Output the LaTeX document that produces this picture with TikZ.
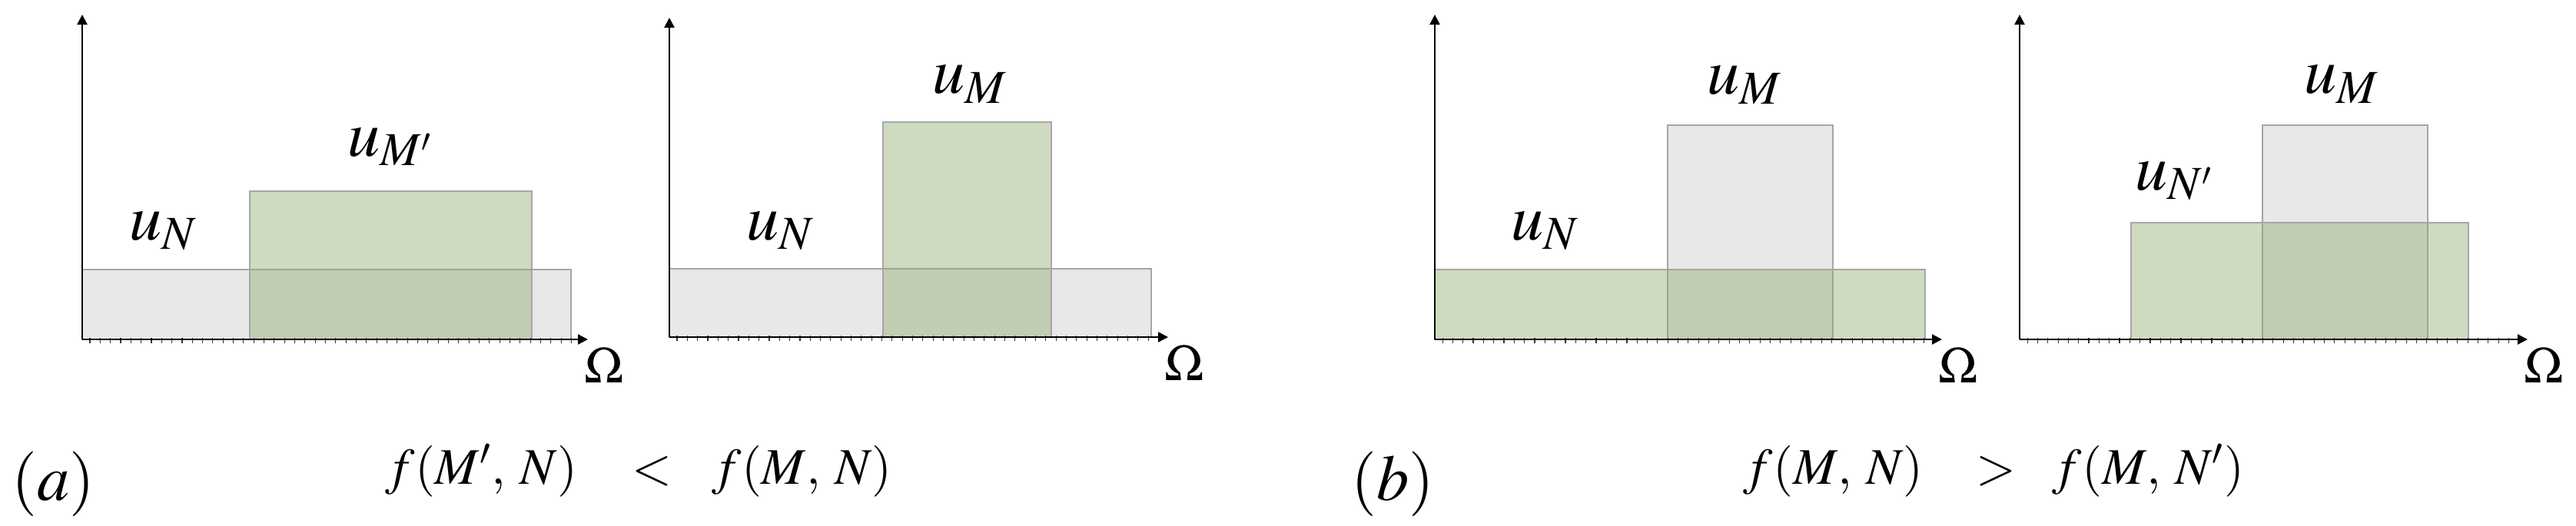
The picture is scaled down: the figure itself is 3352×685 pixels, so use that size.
\documentclass[tikz,border=0pt]{standalone}
\usepackage{mathptmx}
\usetikzlibrary{calc, arrows.meta}
\definecolor{sgray}{HTML}{E8E8E8}
\definecolor{sgreen}{RGB}{141,171,111}
\definecolor{sedge}{HTML}{A6A6A6}
\DeclareMathSizes{24}{24}{17.5}{12}
\DeclareMathSizes{19}{19}{14}{10}

\begin{document}
\begin{tikzpicture}[x=0.01cm, y=-0.01cm,
    AX/.style={line width=0.65pt, -{Triangle[length=3.7pt, width=3.7pt]}},
    TK/.style={line width=0.3pt, black!80},
    GR/.style={fill=sgray, draw=sedge, line width=0.55pt},
    GN/.style={fill=sgreen, fill opacity=0.43, draw=sedge, line width=0.55pt},
    LB/.style={inner sep=0pt, anchor=base west, font=\fontsize{24}{28}\selectfont},
    FM/.style={inner sep=0pt, anchor=base west, font=\fontsize{19}{23}\selectfont},
    OM/.style={inner sep=0pt, anchor=base, font=\fontsize{19}{23}\selectfont}
    ]
    \useasboundingbox (0,0) rectangle (3352,685);

    % (a) bars
    \draw[GR] (107,351) rectangle (743,442);
    \draw[GN] (325,249) rectangle (692,442);
    \draw[GR] (871,350) rectangle (1498,439);
    \draw[GN] (1149,159) rectangle (1368,439);
    % (b) bars
    \draw[GR] (2170,163) rectangle (2385,442);
    \draw[GN] (1867,351) rectangle (2505,442);
    \draw[GR] (2944,163) rectangle (3159,442);
    \draw[GN] (2773,290) rectangle (3212,442);

    % axes with ticks
    \foreach \n/\ox/\oy/\top/\len/\nt in {1/107/442/19/658/47, 2/871/439/23/649/46, 3/1867/442/19/660/47, 4/2628/442/19/661/47} {
        \coordinate (o\n) at (\ox,\oy);
        \coordinate (yt\n) at (\ox,\top);
        \coordinate (xt\n) at (\ox+\len,\oy);
        \foreach \k in {0,...,\nt}
            \draw[TK] ($(o\n)+(10+13.33*\k,-2)$) -- ++(0,7);
        \draw[AX] (o\n) -- (yt\n);
        \draw[AX] (o\n) -- (xt\n);
        \node[OM] (om\n) at ($(xt\n)+(21,56)$) {$\Omega$};
    }

    \node[LB] (uN1) at (168,312) {$u_N$};
    \node[LB] (uM1) at (452,203) {$u_{M'}$};
    \node[LB] (uN2) at (971,312) {$u_N$};
    \node[LB] (uM2) at (1213,122) {$u_M$};
    \node[LB] (uN3) at (1966,312) {$u_N$};
    \node[LB] (uM3) at (2221,123) {$u_M$};
    \node[LB] (uN4) at (2778,247) {$u_{N'}$};
    \node[LB] (uM4) at (2998,122) {$u_M$};

    \node[LB] (capa) at (15,651) {$(a)$};
    \node[FM] (fa1) at (501,630) {$f(M',\mkern3mu N)$};
    \node[FM] (lt) at (822,630) {$<$};
    \node[FM] (fa2) at (926,630) {$f(M,\mkern3mu N)$};
    \node[LB] (capb) at (1758,651) {$(b)$};
    \node[FM] (fb1) at (2268,630) {$f(M,\mkern3mu N)$};
    \node[FM] (gt) at (2571,630) {$>$};
    \node[FM] (fb2) at (2670,630) {$f(M,\mkern3mu N')$};
\end{tikzpicture}
\end{document}
